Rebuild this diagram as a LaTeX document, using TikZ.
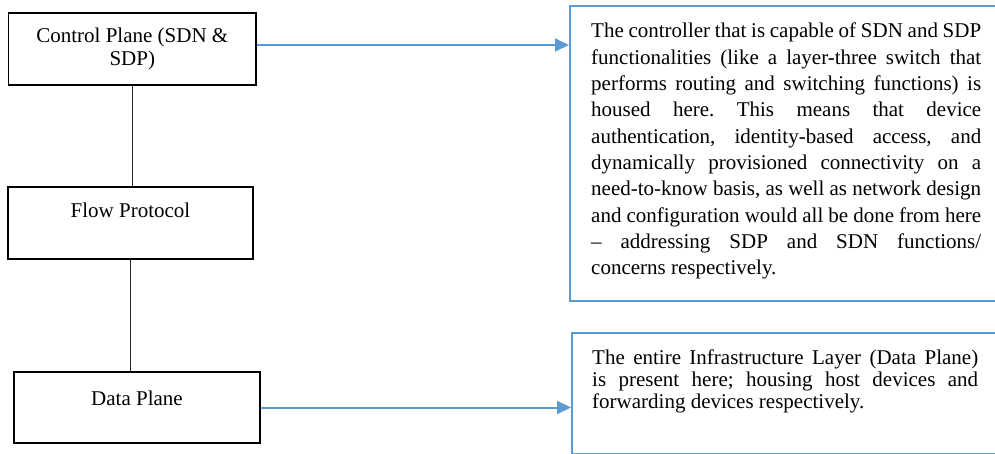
\documentclass[tikz,border=0pt]{standalone}
\usepackage{fontspec}
\setmainfont{Liberation Serif}
\usetikzlibrary{arrows.meta}
\definecolor{lblue}{HTML}{5B9BD5}
\frenchspacing
\begin{document}
\begin{tikzpicture}[x=1pt,y=-1pt,
  lbox/.style={draw=black,line width=1.6pt,rectangle,inner sep=0pt},
  rbox/.style={draw=lblue,line width=1.8pt,rectangle,inner sep=0pt,anchor=north west},
  lbl/.style={font=\fontsize{21}{23}\selectfont,inner sep=0pt,align=center},
  desc/.style={inner sep=0pt,align=left,anchor=north west},
  link/.style={draw=black!85,line width=0.9pt},
  arr/.style={draw=lblue,line width=2pt,-{Triangle[length=14pt,width=13pt]}}]
\useasboundingbox (0,0) rectangle (995,454);
\clip (0,0) rectangle (995,454);
\fill[white] (0,0) rectangle (995,454);
% left boxes
\node[lbox,minimum width=247.5pt,minimum height=72pt,lbl] (cp) at (132.3,49) {Control Plane (SDN \&\\SDP)};
\node[lbox,minimum width=245pt,minimum height=72pt] (fp) at (130.5,223) {};
\node[lbl,anchor=base] (fpt) at (130.5,218) {Flow Protocol};
\node[lbox,minimum width=246pt,minimum height=71pt] (dp) at (137,407.5) {};
\node[lbl,anchor=base] (dpt) at (137,405) {Data Plane};
% right boxes
\node[rbox,minimum width=440pt,minimum height=295pt] (d1) at (569,5) {};
\node[rbox,minimum width=440pt,minimum height=121pt] (d2) at (571,332) {};
\node[desc,font=\fontsize{21}{26.3}\selectfont] (t1) at (591,23) {%
\makebox[390pt][s]{The controller that is capable of SDN and SDP}\\
\makebox[390pt][s]{functionalities (like a layer-three switch that}\\
\makebox[390pt][s]{performs routing and switching functions) is}\\
\makebox[390pt][s]{housed here. This means that device}\\
\makebox[390pt][s]{authentication, identity-based access, and}\\
\makebox[390pt][s]{dynamically provisioned connectivity on a}\\
\makebox[390pt][s]{need-to-know basis, as well as network design}\\
\makebox[390pt][s]{and configuration would all be done from here}\\
\makebox[390pt][s]{– addressing SDP and SDN functions/}\\
\makebox[390pt][l]{concerns respectively.}};
\node[desc,font=\fontsize{21}{22}\selectfont] (t2) at (592,350) {%
\makebox[386pt][s]{The entire Infrastructure Layer (Data Plane)}\\
\makebox[386pt][s]{is present here; housing host devices and}\\
\makebox[386pt][l]{forwarding devices respectively.}};
% connectors
\draw[link] (cp.south) -- (cp.south |- fp.north);
\draw[link] (fp.south) -- (fp.south |- dp.north);
\draw[arr] ([yshift=4pt]cp.east) -- ([yshift=4pt]cp.east -| d1.west);
\draw[arr] (dp.east) -- (dp.east -| d2.west);
\end{tikzpicture}
\end{document}
